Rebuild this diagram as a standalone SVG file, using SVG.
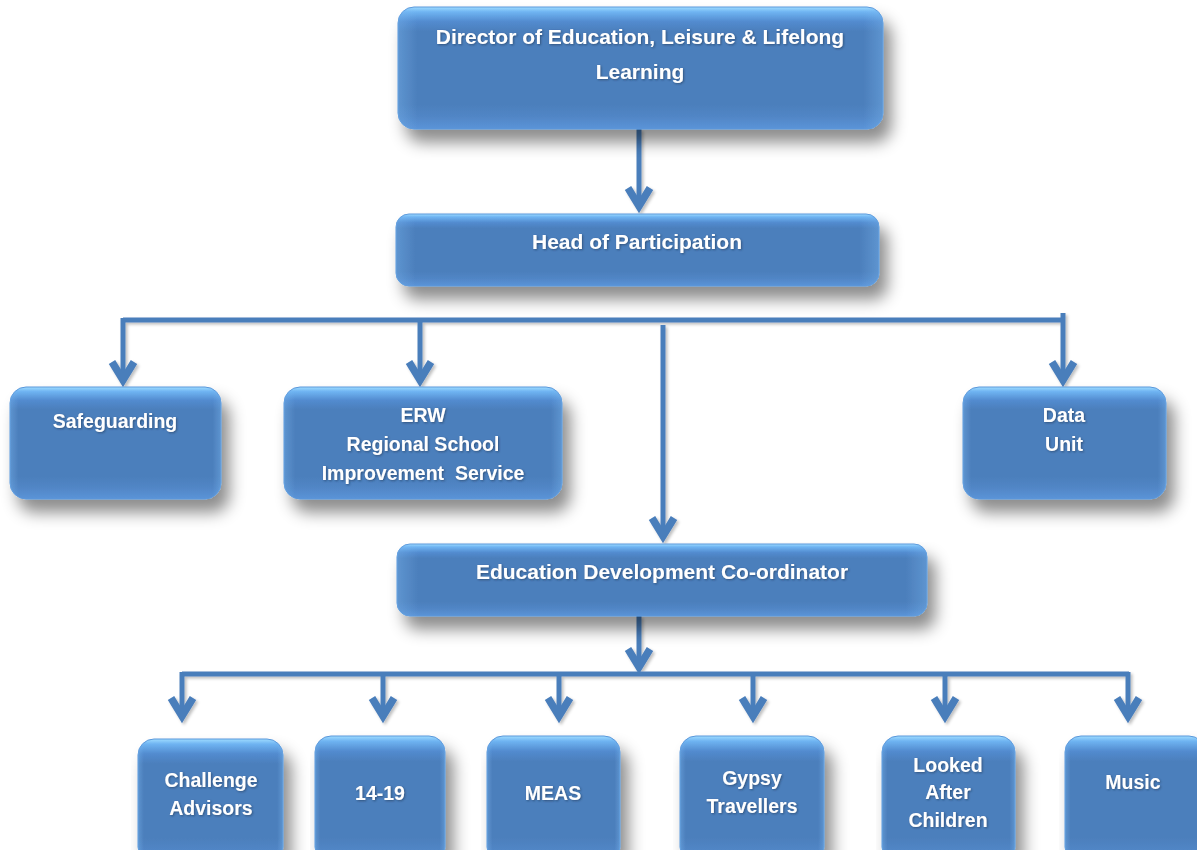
<svg xmlns="http://www.w3.org/2000/svg" width="1197" height="850" viewBox="0 0 1197 850">
  <defs>
    <!-- vertical bevel: bright rim on top, flat body, lighter lip at bottom -->
    <linearGradient id="boxFill" x1="0" y1="0" x2="0" y2="1">
      <stop offset="0" stop-color="#9fdcff"/>
      <stop offset="0.04" stop-color="#6fb4f2"/>
      <stop offset="0.12" stop-color="#528bcf"/>
      <stop offset="0.2" stop-color="#4c7fbc"/>
      <stop offset="0.8" stop-color="#4c7fbc"/>
      <stop offset="0.9" stop-color="#5186c6"/>
      <stop offset="1" stop-color="#5b94d8"/>
    </linearGradient>
    <!-- side bevel overlay -->
    <linearGradient id="sideFill" x1="0" y1="0" x2="1" y2="0">
      <stop offset="0" stop-color="#7fbdf5" stop-opacity="0.35"/>
      <stop offset="0.04" stop-color="#7fbdf5" stop-opacity="0"/>
      <stop offset="0.96" stop-color="#7fbdf5" stop-opacity="0"/>
      <stop offset="1" stop-color="#7fbdf5" stop-opacity="0.35"/>
    </linearGradient>
    <filter id="boxShadow" x="-10%" y="-20%" width="130%" height="180%">
      <feGaussianBlur in="SourceAlpha" stdDeviation="8"/>
      <feOffset dx="8" dy="13" result="blur"/>
      <feFlood flood-color="#000" flood-opacity="0.45"/>
      <feComposite in2="blur" operator="in"/>
      <feMerge>
        <feMergeNode/>
        <feMergeNode in="SourceGraphic"/>
      </feMerge>
    </filter>
    <filter id="lineShadow" x="-5%" y="-5%" width="110%" height="110%">
      <feGaussianBlur in="SourceAlpha" stdDeviation="1.5"/>
      <feOffset dx="1.5" dy="2" result="blur"/>
      <feFlood flood-color="#000" flood-opacity="0.25"/>
      <feComposite in2="blur" operator="in"/>
      <feMerge>
        <feMergeNode/>
        <feMergeNode in="SourceGraphic"/>
      </feMerge>
    </filter>
    <filter id="textShadow" x="-5%" y="-30%" width="110%" height="160%">
      <feGaussianBlur in="SourceAlpha" stdDeviation="0.8"/>
      <feOffset dx="0.8" dy="1" result="blur"/>
      <feFlood flood-color="#1d3553" flood-opacity="0.6"/>
      <feComposite in2="blur" operator="in"/>
      <feMerge>
        <feMergeNode/>
        <feMergeNode in="SourceGraphic"/>
      </feMerge>
    </filter>
    <!-- open chevron arrowhead -->
    <marker id="chevron" markerUnits="userSpaceOnUse" viewBox="-30 -20 40 40" refX="0" refY="0" markerWidth="40" markerHeight="40" orient="auto" overflow="visible">
      <path d="M-18,-11 L0,0 L-18,11" fill="none" stroke="#4a7ebb" stroke-width="7.5" stroke-linejoin="miter" stroke-linecap="butt"/>
    </marker>
  </defs>
  <style>
    .box { fill: url(#boxFill); stroke: #5a97da; stroke-width: 1; }
    .bevel { fill: url(#sideFill); }
    .node { filter: url(#boxShadow); }
    .label { font-family: "Liberation Sans", Arial, sans-serif; font-weight: bold; fill: #ffffff; text-anchor: middle; filter: url(#textShadow); }
    .big { font-size: 21px; }
    .small { font-size: 19.5px; }
    .wire { fill: none; stroke: #4a7ebb; stroke-width: 5; stroke-linecap: butt; stroke-linejoin: miter; }
    .drop { marker-end: url(#chevron); }
  </style>

  <rect width="1197" height="850" fill="#ffffff"/>

  <!-- connectors -->
  <g id="connectors" filter="url(#lineShadow)">
    <path class="wire drop" d="M639,129 L639,206"/>
    <path class="wire" d="M123,320 L1063,320"/>
    <path class="wire drop" d="M123,318 L123,380"/>
    <path class="wire drop" d="M420,320 L420,380"/>
    <path class="wire drop" d="M1063,313 L1063,380"/>
    <path class="wire drop" d="M663,325 L663,536"/>
    <path class="wire drop" d="M639,616 L639,667"/>
    <path class="wire" d="M182,674 L1129,674"/>
    <path class="wire drop" d="M182,672 L182,716"/>
    <path class="wire drop" d="M383,674 L383,716"/>
    <path class="wire drop" d="M559,674 L559,716"/>
    <path class="wire drop" d="M753,674 L753,716"/>
    <path class="wire drop" d="M945,674 L945,716"/>
    <path class="wire drop" d="M1128,672 L1128,716"/>
  </g>

  <!-- level 1 -->
  <g id="director" class="node">
    <rect class="box" x="398" y="7" width="485" height="122" rx="16"/>
    <rect class="bevel" x="398" y="7" width="485" height="122" rx="16"/>
    <text class="label big" x="640" y="44">Director of Education, Leisure &amp; Lifelong</text>
    <text class="label big" x="640" y="79">Learning</text>
  </g>

  <!-- level 2 -->
  <g id="head-of-participation" class="node">
    <rect class="box" x="396" y="214" width="483" height="72" rx="13"/>
    <rect class="bevel" x="396" y="214" width="483" height="72" rx="13"/>
    <text class="label big" x="637" y="249">Head of Participation</text>
  </g>

  <!-- level 3 -->
  <g id="safeguarding" class="node">
    <rect class="box" x="10" y="387" width="211" height="112" rx="16"/>
    <rect class="bevel" x="10" y="387" width="211" height="112" rx="16"/>
    <text class="label small" x="115" y="428">Safeguarding</text>
  </g>

  <g id="erw" class="node">
    <rect class="box" x="284" y="387" width="278" height="112" rx="16"/>
    <rect class="bevel" x="284" y="387" width="278" height="112" rx="16"/>
    <text class="label small" x="423" y="422">ERW</text>
    <text class="label small" x="423" y="451">Regional School</text>
    <text class="label small" x="423" y="480" xml:space="preserve">Improvement  Service</text>
  </g>

  <g id="data-unit" class="node">
    <rect class="box" x="963" y="387" width="203" height="112" rx="16"/>
    <rect class="bevel" x="963" y="387" width="203" height="112" rx="16"/>
    <text class="label small" x="1064" y="422">Data</text>
    <text class="label small" x="1064" y="451">Unit</text>
  </g>

  <g id="education-development-coordinator" class="node">
    <rect class="box" x="397" y="544" width="530" height="72" rx="13"/>
    <rect class="bevel" x="397" y="544" width="530" height="72" rx="13"/>
    <text class="label big" x="662" y="579">Education Development Co-ordinator</text>
  </g>

  <!-- level 4 -->
  <g id="challenge-advisors" class="node">
    <rect class="box" x="138" y="739" width="145" height="124" rx="16"/>
    <rect class="bevel" x="138" y="739" width="145" height="124" rx="16"/>
    <text class="label small" x="211" y="787">Challenge</text>
    <text class="label small" x="211" y="815">Advisors</text>
  </g>

  <g id="fourteen-nineteen" class="node">
    <rect class="box" x="315" y="736" width="130" height="127" rx="16"/>
    <rect class="bevel" x="315" y="736" width="130" height="127" rx="16"/>
    <text class="label small" x="380" y="800">14-19</text>
  </g>

  <g id="meas" class="node">
    <rect class="box" x="487" y="736" width="133" height="127" rx="16"/>
    <rect class="bevel" x="487" y="736" width="133" height="127" rx="16"/>
    <text class="label small" x="553" y="800">MEAS</text>
  </g>

  <g id="gypsy-travellers" class="node">
    <rect class="box" x="680" y="736" width="144" height="127" rx="16"/>
    <rect class="bevel" x="680" y="736" width="144" height="127" rx="16"/>
    <text class="label small" x="752" y="785">Gypsy</text>
    <text class="label small" x="752" y="813">Travellers</text>
  </g>

  <g id="looked-after-children" class="node">
    <rect class="box" x="882" y="736" width="133" height="127" rx="16"/>
    <rect class="bevel" x="882" y="736" width="133" height="127" rx="16"/>
    <text class="label small" x="948" y="772">Looked</text>
    <text class="label small" x="948" y="799">After</text>
    <text class="label small" x="948" y="827">Children</text>
  </g>

  <g id="music" class="node">
    <rect class="box" x="1065" y="736" width="140" height="127" rx="16"/>
    <rect class="bevel" x="1065" y="736" width="140" height="127" rx="16"/>
    <text class="label small" x="1133" y="789">Music</text>
  </g>
</svg>
